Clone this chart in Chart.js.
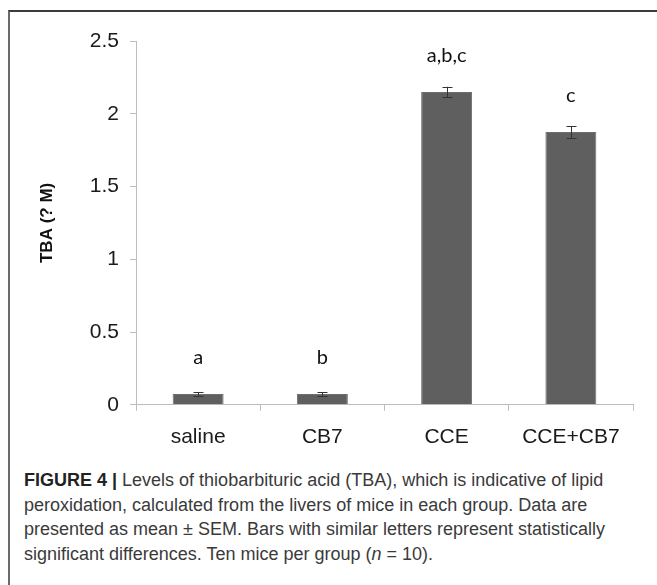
<!DOCTYPE html>
<html>
<head>
<meta charset="utf-8">
<script src="https://cdn.jsdelivr.net/npm/chart.js@4"></script>
<style>
    html, body { margin: 0; padding: 0; background: #fff; }
    body { width: 657px; height: 585px; position: relative; overflow: hidden; }
    .frame {
        position: absolute; left: 8px; top: 10px; width: 660px; height: 600px;
        border-top: 2px solid #3c3c3c; border-left: 2px solid #6a6a6a;
    }
    #wrap { position: absolute; left: 10px; top: 12px; width: 647px; height: 452px; }
    .caption {
        position: absolute; left: 24px; top: 468px; width: 632px;
        font-family: "Liberation Sans", Arial, sans-serif; font-size: 18px;
        line-height: 24.5px; color: #3a3a3a; white-space: nowrap;
    }
    .caption b { color: #222; }
</style>
</head>
<body>
<div class="frame"></div>
<div id="wrap"><canvas id="chart"></canvas></div>
<div class="caption">
    <b>FIGURE 4 |</b> Levels of thiobarbituric acid (TBA), which is indicative of lipid<br>
    peroxidation, calculated from the livers of mice in each group. Data are<br>
    presented as mean ± SEM. Bars with similar letters represent statistically<br>
    significant differences. Ten mice per group (<i>n</i> = 10).
</div>

<script>
// ---------- DATA ----------
const groups = ["saline", "CB7", "CCE", "CCE+CB7"];
const tbaMean = [0.075, 0.075, 2.15, 1.875];
const tbaSem = [0.012, 0.012, 0.035, 0.04];
const sigLetters = ["a", "b", "a,b,c", "c"];
const yTicks = [0, 0.5, 1, 1.5, 2, 2.5];

// ---------- ERROR BARS + LETTERS + Y TITLE ----------
const extras = {
    id: "extras",
    afterDatasetsDraw(chart) {
        const ctx = chart.ctx;
        const meta = chart.getDatasetMeta(0);
        const y = chart.scales.y;

        ctx.save();
        ctx.strokeStyle = "#333";
        ctx.lineWidth = 1;
        meta.data.forEach((bar, i) => {
            const top = y.getPixelForValue(tbaMean[i] + tbaSem[i]);
            const bot = y.getPixelForValue(tbaMean[i] - tbaSem[i]);
            const x = Math.round(bar.x) + 0.5;
            ctx.beginPath();
            ctx.moveTo(x, top); ctx.lineTo(x, bot);
            ctx.moveTo(x - 5, Math.round(top) + 0.5); ctx.lineTo(x + 5, Math.round(top) + 0.5);
            ctx.moveTo(x - 5, Math.round(bot) + 0.5); ctx.lineTo(x + 5, Math.round(bot) + 0.5);
            ctx.stroke();

            // letters
            ctx.fillStyle = "#111";
            ctx.font = "20px Lato, 'Open Sans', sans-serif";
            ctx.textAlign = "center";
            ctx.textBaseline = "middle";
            ctx.fillText(sigLetters[i], bar.x, y.getPixelForValue(tbaMean[i]) - 36);
        });

        // y title
        ctx.translate(37, (chart.chartArea.top + chart.chartArea.bottom) / 2);
        ctx.rotate(-Math.PI / 2);
        ctx.font = "bold 17px 'Liberation Sans', Arial, sans-serif";
        ctx.fillStyle = "#111";
        ctx.fillText("TBA (? M)", 0, 0);
        ctx.restore();
    }
};

// ---------- CHART ----------
const ctx = document.getElementById("chart").getContext("2d");

new Chart(ctx, {
    type: "bar",
    data: {
        labels: groups,
        datasets: [{
            data: tbaMean,
            backgroundColor: "#5f5f5f",
            borderColor: "#6e6e6e",
            borderWidth: 1,
            categoryPercentage: 1,
            barPercentage: 0.41
        }]
    },
    options: {
        responsive: true,
        maintainAspectRatio: false,
        animation: false,
        layout: { padding: { top: 29, right: 24, left: 0, bottom: 0 } },
        plugins: {
            legend: { display: false },
            tooltip: { enabled: false }
        },
        scales: {
            x: {
                grid: {
                    offset: true,
                    drawOnChartArea: false,
                    tickLength: 6,
                    color: "#bdbdbd"
                },
                border: { color: "#bdbdbd" },
                ticks: {
                    color: "#1a1a1a",
                    padding: 14,
                    font: { family: "'Liberation Sans', Arial, sans-serif", size: 21 }
                }
            },
            y: {
                min: 0,
                max: 2.5,
                afterBuildTicks: axis => { axis.ticks = yTicks.map(v => ({ value: v })); },
                afterFit: axis => { axis.width = 126; },
                grid: {
                    drawOnChartArea: false,
                    tickLength: 6,
                    color: "#bdbdbd"
                },
                border: { color: "#bdbdbd" },
                ticks: {
                    color: "#1a1a1a",
                    padding: 11,
                    callback: v => String(v),
                    font: { family: "'Liberation Sans', Arial, sans-serif", size: 21 }
                }
            }
        }
    },
    plugins: [extras]
});
</script>
</body>
</html>
